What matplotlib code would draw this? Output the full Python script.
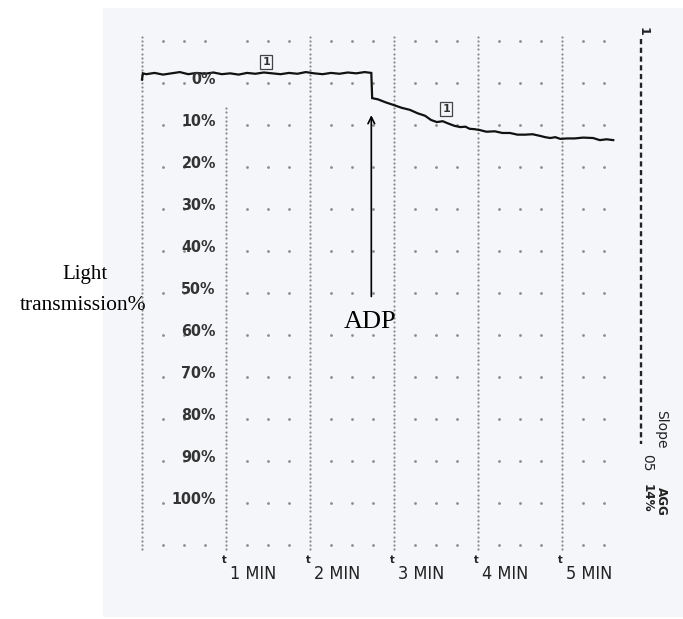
import numpy as np
import matplotlib
matplotlib.use("Agg")
import matplotlib.pyplot as plt
from matplotlib import font_manager
from matplotlib.font_manager import FontProperties
from matplotlib.patches import Rectangle

# ---------------- data ----------------
pct_labels = ["0%", "10%", "20%", "30%", "40%", "50%", "60%", "70%", "80%", "90%", "100%"]
pct_values = [0, 10, 20, 30, 40, 50, 60, 70, 80, 90, 100]
time_ticks = [1, 2, 3, 4, 5]
time_labels = ["1 MIN", "2 MIN", "3 MIN", "4 MIN", "5 MIN"]

# trace before ADP (minutes, % transmission)
base_t = [0.00, 0.01, 0.05, 0.15, 0.25, 0.35, 0.45, 0.55, 0.65, 0.75, 0.85, 0.95,
          1.05, 1.15, 1.25, 1.35, 1.45, 1.55, 1.65, 1.75, 1.85, 1.95, 2.05, 2.15,
          2.25, 2.35, 2.45, 2.55, 2.65, 2.73]
base_v = [-0.8, -2.3, -2.1, -2.4, -2.0, -2.3, -2.6, -2.1, -2.4, -2.2, -2.5, -2.1,
          -2.3, -2.0, -2.4, -2.2, -2.5, -2.3, -2.1, -2.4, -2.2, -2.6, -2.3, -2.1,
          -2.4, -2.2, -2.5, -2.3, -2.6, -2.4]
# trace after ADP
agg_t = [2.74, 2.81, 2.90, 2.99, 3.09, 3.19, 3.28, 3.37, 3.44, 3.51, 3.58, 3.64,
         3.72, 3.79, 3.85, 3.90, 3.96, 4.02, 4.10, 4.20, 4.29, 4.38, 4.47, 4.56,
         4.65, 4.74, 4.80, 4.86, 4.92, 4.98, 5.06, 5.15, 5.25, 5.37, 5.45, 5.53, 5.61]
agg_v = [3.6, 3.9, 4.6, 5.2, 5.9, 6.4, 7.2, 7.8, 8.8, 9.3, 9.1, 9.6,
         10.2, 10.5, 10.4, 10.9, 11.0, 11.2, 11.6, 11.5, 11.9, 11.9, 12.3, 12.3,
         12.2, 12.6, 12.9, 13.1, 12.9, 13.3, 13.2, 13.2, 13.0, 13.1, 13.6, 13.4, 13.6]

adp_time = 2.73
marker_pts = [(1.48, -5.0), (3.62, 6.2)]

# ---------------- fonts ----------------
def find_narrow(bold):
    best = None
    for f in font_manager.fontManager.ttflist:
        fn = f.fname.lower()
        if ("condensed" in fn or "narrow" in fn) and "oblique" not in fn and "italic" not in fn:
            isbold = "bold" in fn
            if isbold == bold:
                if best is None or "dejavusans" in fn or "liberation" in fn:
                    best = f.fname
    return best

nb = find_narrow(True)
nr = find_narrow(False)

def narrow_fp(size, bold=True):
    path = nb if bold else nr
    if path is None:
        path = nb or nr
    if path is not None:
        return FontProperties(fname=path, size=size)
    return FontProperties(family="DejaVu Sans", size=size * 0.9,
                          weight="bold" if bold else "normal", stretch="condensed")

serif = "Liberation Serif"

# ---------------- figure ----------------
W, H = 683, 619
fig = plt.figure(figsize=(W / 100, H / 100), dpi=100)
fig.patch.set_facecolor("white")
ax = fig.add_axes([0, 0, 1, 1])
ax.patch.set_alpha(0)
ax.add_patch(Rectangle((103 / W, 2 / H), 1 - 103 / W, (617 - 8) / H,
                       transform=fig.transFigure, fc="#f4f6f9", ec="none", zorder=-10))
px_per_min = 84.0
px_per_pct = 4.2
x0, y0 = 142.0, 83.0
ax.set_xlim(-x0 / px_per_min, (W - x0) / px_per_min)
ax.set_ylim((H - y0) / px_per_pct, -y0 / px_per_pct)
ax.axis("off")

dot_c = "#8c8c8c"
# vertical dotted columns
for k in range(0, 6):
    start = 6 if k == 1 else -11
    ys = np.arange(start, 112, 1.0)
    ax.plot(np.full_like(ys, k), ys, ls="none", marker="o", ms=1.6, color=dot_c, mec="none")
# horizontal dotted rows
for r in range(-10, 111, 10):
    ts = np.arange(0.25, 5.51, 0.25)
    keep = []
    for t in ts:
        if abs(t - round(t)) < 1e-6:
            continue
        if 0 <= r <= 90 and abs(t - 0.75) < 1e-6:
            continue
        if r == 100 and (abs(t - 0.75) < 1e-6 or abs(t - 0.5) < 1e-6):
            continue
        keep.append(t)
    keep = np.array(keep)
    ax.plot(keep, np.full_like(keep, r), ls="none", marker="o", ms=2.0, color=dot_c, mec="none")

# percentage labels
for lab, v in zip(pct_labels, pct_values):
    ax.text(0.88, v - 0.8, lab, fontproperties=narrow_fp(11.5, True),
            color="#333333", ha="right", va="center")

# time labels
for t, lab in zip(time_ticks, time_labels):
    ax.text(t - 0.05, 113.6, "t", fontproperties=narrow_fp(8, True),
            color="#222222", ha="left", va="center")
    ax.text(t + 0.05, 116.8, lab, fontproperties=narrow_fp(13, False), color="#222222",
            ha="left", va="center")

# trace
ax.plot(base_t + agg_t, base_v + agg_v, color="#111111", lw=1.6, solid_joinstyle="miter")

# boxed markers
for (mt, mv) in marker_pts:
    ax.text(mt, mv, "1", fontsize=8, fontweight="bold", color="#333333", ha="center", va="center",
            bbox=dict(boxstyle="square,pad=0.2", fc="none", ec="#444444", lw=0.9))

# ADP arrow
ax.annotate("", xy=(adp_time, 7.0), xytext=(adp_time, 51.5),
            arrowprops=dict(arrowstyle="->", lw=1.2, color="black", mutation_scale=12))
ax.text(adp_time - 0.02, 57.0, "ADP", family=serif, fontsize=19, ha="center", va="center")

# y-axis title
ax.text(-0.68, 45.7, "Light", family=serif, fontsize=15, ha="center", va="center")
ax.text(-0.70, 53.0, "transmission%", family=serif, fontsize=15.5, ha="center", va="center")

# right-hand scale
xr = (641 - x0) / px_per_min
ax.plot([xr, xr], [-10.5, 86.0], color="#222222", lw=1.7, ls=(0, (2.2, 1.5)))
ax.text(xr + 0.02, -12.2, "1", fontsize=9, fontweight="bold", rotation=-90, ha="center", va="center",
        color="#222222")
ax.text(xr + 0.07, 90.5, "05", fontsize=10, rotation=-90, ha="center", va="center", color="#222222")
ax.text(xr + 0.24, 82.5, "Slope", fontsize=10, rotation=-90, ha="center", va="center", color="#222222")
ax.text(xr + 0.07, 99.0, "14%", fontproperties=narrow_fp(9.5, True), rotation=-90,
        ha="center", va="center", color="#222222")
ax.text(xr + 0.24, 99.5, "AGG", fontproperties=narrow_fp(9.5, True), rotation=-90,
        ha="center", va="center", color="#222222")

fig.savefig("out.png", dpi=100)
